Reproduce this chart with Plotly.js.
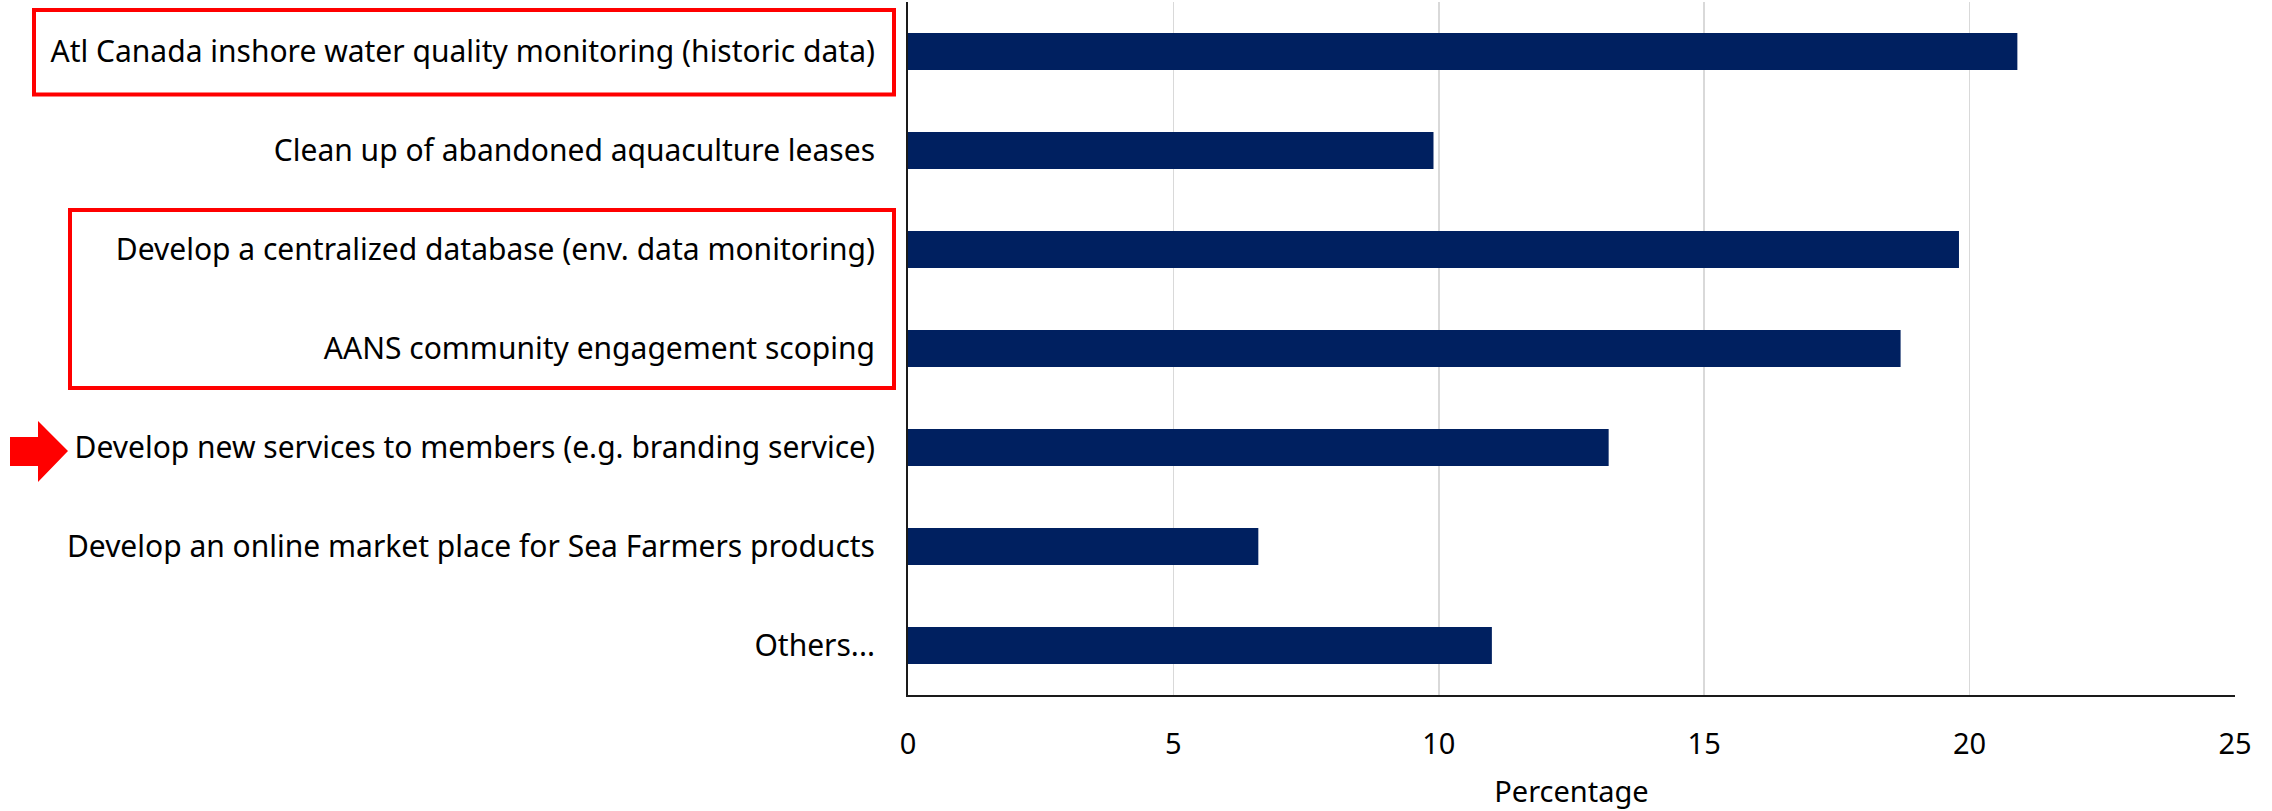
<!DOCTYPE html>
<html>
<head>
<meta charset="utf-8">
<script src="https://cdn.plot.ly/plotly-3.0.1.min.js"></script>
<style>html,body{margin:0;padding:0;background:#fff;}#chart{width:2272px;height:811px;}</style>
</head>
<body>
<div id="chart"></div>
<script>
const categories = [
  "Atl Canada inshore water quality monitoring (historic data)",
  "Clean up of abandoned aquaculture leases",
  "Develop a centralized database (env. data monitoring)",
  "AANS community engagement scoping",
  "Develop new services to members (e.g. branding service)",
  "Develop an online market place for Sea Farmers products",
  "Others..."
];
const percentages = [20.9, 9.9, 19.8, 18.7, 13.2, 6.6, 11.0];
const xTickValues = [0, 5, 10, 15, 20, 25];
const xTickLabels = ["0", "5", "10", "15", "20", "25"];

const W = 2272, H = 811;
const M = {l: 908, r: 37, t: 2, b: 116};
const PW = W - M.l - M.r, PH = H - M.t - M.b;
const px = x => (x - M.l) / PW;
const py = y => (H - M.b - y) / PH;

const FONT = "Noto Sans, Open Sans, sans-serif";

const arrowPath = () => {
  const pts = [[10,437],[38,437],[38,421],[68,451],[38,482],[38,466],[10,466]];
  return "M " + pts.map(p => px(p[0]).toFixed(5) + "," + py(p[1]).toFixed(5)).join(" L ") + " Z";
};

const trace = {
  type: "bar",
  orientation: "h",
  y: categories,
  x: percentages,
  marker: {color: "#002060", line: {width: 0}},
  hoverinfo: "x+y"
};

const layout = {
  width: W, height: H,
  margin: M,
  paper_bgcolor: "#ffffff",
  plot_bgcolor: "#ffffff",
  showlegend: false,
  bargap: 0.626,
  font: {family: FONT, color: "#000000"},
  xaxis: {
    range: [0, 25],
    tickvals: xTickValues,
    ticktext: xTickLabels,
    showgrid: true,
    gridcolor: "#d9d9d9",
    gridwidth: 1.5,
    zeroline: false,
    showline: true,
    linecolor: "#1a1a1a",
    linewidth: 2,
    ticks: "",
    ticklabelstandoff: 22,
    tickfont: {family: FONT, size: 29, color: "#000000"},
    title: {text: "Percentage", font: {family: FONT, size: 29, color: "#000000"}, standoff: 21}
  },
  yaxis: {
    type: "category",
    autorange: "reversed",
    showgrid: false,
    zeroline: false,
    showline: true,
    linecolor: "#1a1a1a",
    linewidth: 2,
    ticks: "",
    ticklabelstandoff: 25,
    tickfont: {family: FONT, size: 30, color: "#000000"}
  },
  shapes: [
    {type: "rect", xref: "paper", yref: "paper", x0: px(34), x1: px(894), y0: py(10), y1: py(94.5),
     line: {color: "#ff0000", width: 4}, fillcolor: "rgba(0,0,0,0)"},
    {type: "rect", xref: "paper", yref: "paper", x0: px(70), x1: px(894), y0: py(210), y1: py(388),
     line: {color: "#ff0000", width: 4}, fillcolor: "rgba(0,0,0,0)"},
    {type: "path", xref: "paper", yref: "paper", path: arrowPath(),
     fillcolor: "#ff0000", line: {color: "#ff0000", width: 0}}
  ]
};

Plotly.newPlot("chart", [trace], layout, {staticPlot: true, displayModeBar: false});
</script>
</body>
</html>
